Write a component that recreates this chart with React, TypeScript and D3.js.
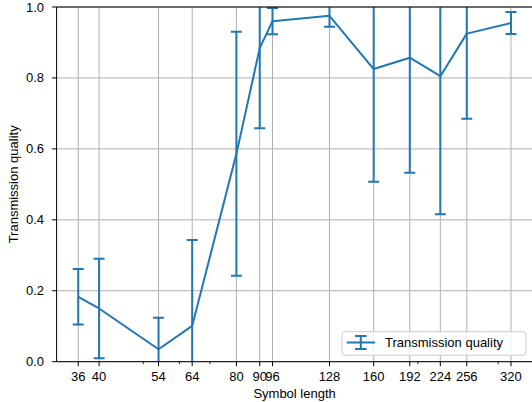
import React from "react";
import * as d3 from "d3";

const symbolLengths = [36, 40, 54, 64, 80, 90, 96, 128, 160, 192, 224, 256, 320];
const quality = [0.183, 0.150, 0.035, 0.101, 0.586, 0.884, 0.960, 0.975, 0.825, 0.857, 0.805, 0.925, 0.955];
const qualityErr = [0.078, 0.140, 0.089, 0.242, 0.344, 0.226, 0.037, 0.031, 0.318, 0.324, 0.389, 0.240, 0.031];
const yTicks = [0, 0.2, 0.4, 0.6, 0.8, 1.0];
const xMinorTicks = [50, 60, 70, 200, 300];
const seriesName = "Transmission quality";
const xLabel = "Symbol length";
const yLabel = "Transmission quality";

const W = 532, H = 402;
const L = 56.6, R = 532.6, T = 7, B = 361.7;
const FONT = "'Liberation Sans', Arial, Helvetica, sans-serif";
const FS = 13;
const BLUE = "#1f77b4";

export default function App() {
  const lo = Math.log(symbolLengths[0]);
  const hi = Math.log(symbolLengths[symbolLengths.length - 1]);
  const m = (hi - lo) * 0.05;
  const x = d3.scaleLog().domain([Math.exp(lo - m), Math.exp(hi + m)]).range([L, R]);
  const y = d3.scaleLinear().domain([0, 1]).range([B, T]);
  const pts = symbolLengths.map((s, i) => [s, quality[i]] as [number, number]);
  const line = d3.line<[number, number]>().x(d => x(d[0])).y(d => y(d[1]));
  const cap = 5.5;

  return (
    <div style={{ position: "absolute", left: 0, top: 0 }}>
      <style>{`body{margin:0}`}</style>
      <svg width={W} height={H} style={{ display: "block", background: "#fff" }} fontFamily={FONT}>
        <defs>
          <clipPath id="ax">
            <rect x={L} y={T} width={R - L} height={B - T} />
          </clipPath>
        </defs>
        {/* grid */}
        <g stroke="#b0b0b0" strokeWidth={1}>
          {symbolLengths.map(s => (
            <line key={"gx" + s} x1={x(s)} x2={x(s)} y1={T} y2={B} />
          ))}
          {yTicks.map(t => (
            <line key={"gy" + t} x1={L} x2={R} y1={y(t)} y2={y(t)} />
          ))}
        </g>
        {/* data */}
        <g clipPath="url(#ax)" stroke={BLUE} strokeWidth={2} fill="none">
          {symbolLengths.map((s, i) => {
            const cx = x(s);
            const yt = y(quality[i] + qualityErr[i]);
            const yb = y(quality[i] - qualityErr[i]);
            return (
              <g key={"e" + s}>
                <line x1={cx} x2={cx} y1={yt} y2={yb} />
                <line x1={cx - cap} x2={cx + cap} y1={yt} y2={yt} />
                <line x1={cx - cap} x2={cx + cap} y1={yb} y2={yb} />
              </g>
            );
          })}
          <path d={line(pts) || ""} strokeLinejoin="round" />
        </g>
        {/* spines */}
        <g stroke="#000" strokeWidth={1} fill="none">
          <line x1={L} x2={L} y1={T} y2={B} />
          <line x1={L} x2={R} y1={B} y2={B} />
          <line x1={L} x2={R} y1={T} y2={T} />
          <line x1={R} x2={R} y1={T} y2={B} />
        </g>
        {/* x ticks */}
        <g>
          {symbolLengths.map(s => (
            <g key={"xt" + s}>
              <line x1={x(s)} x2={x(s)} y1={B} y2={B + 4.5} stroke="#000" strokeWidth={1} />
              <text x={x(s)} y={381} textAnchor="middle" fontSize={FS} fill="#000">{s}</text>
            </g>
          ))}
          {xMinorTicks.map(s => (
            <line key={"xm" + s} x1={x(s)} x2={x(s)} y1={B} y2={B + 2.5} stroke="#000" strokeWidth={0.8} />
          ))}
        </g>
        {/* y ticks */}
        <g>
          {yTicks.map(t => (
            <g key={"yt" + t}>
              <line x1={L - 4.5} x2={L} y1={y(t)} y2={y(t)} stroke="#000" strokeWidth={1} />
              <text x={44} y={y(t)} dy="0.35em" textAnchor="end" fontSize={FS} fill="#000">{t.toFixed(1)}</text>
            </g>
          ))}
        </g>
        {/* axis labels */}
        <text x={(L + R) / 2} y={398} textAnchor="middle" fontSize={FS} fill="#000">{xLabel}</text>
        <text transform={`translate(17.5,${(T + B) / 2}) rotate(-90)`} textAnchor="middle" fontSize={FS} fill="#000">{yLabel}</text>
        {/* legend */}
        <g>
          <rect x={342} y={331.7} width={184} height={23.6} rx={3} fill="#fff" fillOpacity={0.8} stroke="#cccccc" strokeWidth={1} />
          <g stroke={BLUE} strokeWidth={2}>
            <line x1={346.7} x2={375} y1={342.5} y2={342.5} />
            <line x1={360.8} x2={360.8} y1={336} y2={349} />
            <line x1={355} x2={366.6} y1={336} y2={336} />
            <line x1={355} x2={366.6} y1={349} y2={349} />
          </g>
          <text x={385} y={347} fontSize={FS} fill="#000">{seriesName}</text>
        </g>
      </svg>
    </div>
  );
}
